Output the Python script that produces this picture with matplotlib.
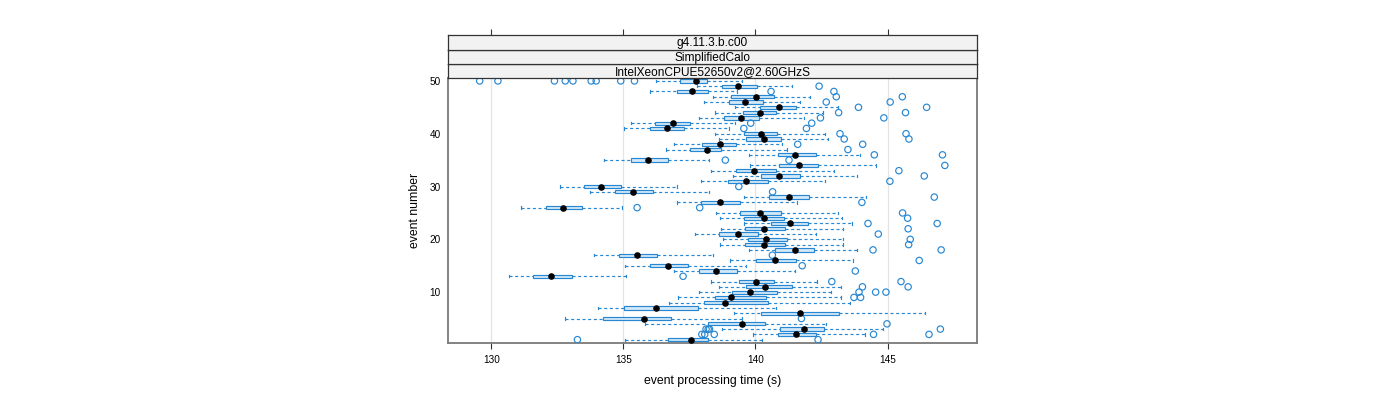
import numpy as np
import matplotlib.pyplot as plt
from matplotlib.patches import Rectangle

plt.rcParams['font.family'] = ['Liberation Sans', 'DejaVu Sans']

# event processing time per event (s): whiskers, quartiles, median, outliers
event = np.arange(1, 51)
whisk_lo = [135.08, 139.89, 138.75, 135.80, 132.80, 139.18, 134.03, 136.71, 137.06, 137.87,
            138.63, 138.30, 130.68, 136.90, 135.05, 139.05, 133.89, 139.76, 138.67, 138.77,
            137.71, 138.70, 139.57, 138.67, 138.49, 131.13, 137.02, 139.55, 133.75, 132.59,
            137.94, 139.16, 138.30, 139.80, 134.28, 139.76, 136.60, 136.93, 138.63, 138.48,
            135.03, 135.28, 137.85, 138.48, 139.21, 138.05, 138.40, 136.00, 137.78, 136.22]
q1 = [136.69, 140.86, 140.94, 138.22, 134.22, 140.22, 135.01, 138.07, 138.45, 139.12,
      139.65, 139.39, 131.59, 137.86, 136.00, 140.01, 134.82, 140.75, 139.61, 139.70,
      138.63, 139.61, 140.58, 139.57, 139.42, 132.06, 137.95, 140.52, 134.68, 133.50,
      138.97, 140.20, 139.28, 140.90, 135.30, 140.86, 137.51, 137.96, 139.64, 139.56,
      136.00, 136.19, 138.82, 139.51, 140.18, 139.01, 139.06, 137.02, 138.75, 137.13]
med = [137.56, 141.53, 141.83, 139.50, 135.79, 141.68, 136.22, 138.85, 139.08, 139.78,
       140.37, 140.02, 132.26, 138.52, 136.68, 140.73, 135.51, 141.49, 140.33, 140.41,
       139.34, 140.33, 141.32, 140.31, 140.16, 132.72, 138.65, 141.26, 135.38, 134.14,
       139.64, 140.90, 139.94, 141.63, 135.94, 141.50, 138.17, 138.65, 140.31, 140.20,
       136.64, 136.87, 139.44, 140.18, 140.90, 139.60, 140.03, 137.59, 139.35, 137.74]
q3 = [138.22, 142.31, 142.60, 140.36, 136.79, 143.17, 137.83, 140.49, 140.39, 140.81,
      141.40, 140.72, 133.07, 139.31, 137.46, 141.52, 136.26, 142.23, 141.12, 141.20,
      140.10, 141.12, 142.00, 141.08, 140.96, 133.42, 139.42, 142.03, 136.11, 134.90,
      140.48, 141.68, 140.79, 142.37, 136.70, 142.29, 138.70, 139.26, 140.95, 140.83,
      137.29, 137.53, 140.13, 140.78, 141.53, 140.30, 140.69, 138.22, 140.06, 138.18]
whisk_hi = [140.23, 144.13, 144.81, 142.66, 139.50, 146.40, 140.79, 143.58, 143.24, 142.86,
            143.22, 142.33, 135.10, 141.49, 139.63, 143.68, 138.38, 143.85, 143.30, 143.30,
            142.29, 143.31, 143.65, 143.26, 143.13, 134.96, 141.58, 144.19, 138.25, 137.02,
            142.62, 143.86, 142.96, 144.58, 138.26, 143.95, 141.20, 140.99, 142.74, 142.62,
            139.01, 139.21, 141.82, 142.57, 143.12, 141.68, 142.08, 139.29, 141.37, 139.50]
outliers = [
    [133.26, 142.37], [137.97, 138.08, 138.44, 144.47, 146.57], [138.13, 138.21, 138.26, 147.00],
    [144.98], [141.74], [], [], [], [143.73, 143.98], [143.92, 144.55, 144.94],
    [144.05, 145.78], [142.89, 145.51], [137.26], [143.78], [141.77],
    [146.20], [140.64], [144.45, 147.03], [145.80], [145.86],
    [144.65], [145.78], [144.26, 146.88], [145.76], [145.57],
    [135.52, 137.89], [144.03], [146.77], [140.65], [139.37],
    [145.09], [146.39], [145.43], [147.17], [138.86, 141.27],
    [144.50, 147.08], [143.50], [141.60, 144.06], [143.36, 145.81], [143.20, 145.70],
    [139.56, 141.93], [139.82, 142.13], [142.46, 144.86], [143.15, 145.68], [143.90, 146.48],
    [142.68, 145.10], [143.06, 145.56], [140.59, 142.97], [142.41],
    [129.56, 130.25, 132.39, 132.80, 133.09, 133.78, 133.97, 134.90, 135.42],
]
strip_labels = ['g4.11.3.b.c00', 'SimplifiedCalo', 'IntelXeonCPUE52650v2@2.60GHzS']
x_ticks = [130, 135, 140, 145]
y_ticks = [10, 20, 30, 40, 50]

blue = '#2787d2'
fig = plt.figure(figsize=(14, 4), dpi=100)
ax = fig.add_axes([0.3198, 0.142, 0.3783, 0.6623])

for xt in x_ticks:
    ax.axvline(xt, color='#e4e4e4', lw=0.9, zorder=0)

bh = 0.62
for i, y in enumerate(event):
    ax.plot([whisk_lo[i], q1[i]], [y, y], color=blue, lw=0.85, ls=(0, (2.6, 2.2)))
    ax.plot([q3[i], whisk_hi[i]], [y, y], color=blue, lw=0.85, ls=(0, (2.6, 2.2)))
    ax.plot([whisk_lo[i]] * 2, [y - 0.22, y + 0.22], color=blue, lw=0.85)
    ax.plot([whisk_hi[i]] * 2, [y - 0.22, y + 0.22], color=blue, lw=0.85)
    ax.add_patch(Rectangle((q1[i], y - bh / 2), q3[i] - q1[i], bh,
                           facecolor='#d3e8f8', edgecolor=blue, lw=0.85, zorder=3))
    if outliers[i]:
        ax.scatter(outliers[i], [y] * len(outliers[i]), s=21, facecolors='none',
                   edgecolors=blue, linewidths=0.85, zorder=4)
ax.scatter(med, event, s=14, color='black', zorder=5)

ax.set_xlim(128.35, 148.40)
ax.set_ylim(0.33, 50.5)
ax.set_xticks(x_ticks)
ax.set_yticks(y_ticks)
ax.tick_params(axis='x', direction='out', length=4.3, width=0.8, labelsize=7.2, pad=4.5, color='#333333')
ax.tick_params(axis='y', length=0, labelsize=7.2, pad=5)
for sp in ax.spines.values():
    sp.set_color('#7a7a7a')
    sp.set_linewidth(1.3)
ax.set_xlabel('event processing time (s)', fontsize=8.8, labelpad=7)
ax.set_ylabel('event number', fontsize=8.8, labelpad=6)

# strips stacked above the panel
sh = 0.0358
for k, lab in enumerate(reversed(strip_labels)):
    sax = fig.add_axes([0.3198, 0.80425 + k * sh, 0.3783, sh])
    sax.set_facecolor('#f2f2f2')
    sax.set_xlim(128.35, 148.40)
    sax.set_yticks([])
    sax.set_xticks([])
    for sp in sax.spines.values():
        sp.set_color('#333333')
        sp.set_linewidth(0.9)
    sax.text(0.5, 0.45, lab, transform=sax.transAxes, ha='center', va='center', fontsize=8.6)
    if k == len(strip_labels) - 1:
        sax.set_xticks(x_ticks)
        sax.tick_params(axis='x', top=True, bottom=False, labeltop=False, labelbottom=False,
                        direction='out', length=4.3, width=0.8, color='#333333')

fig.savefig('out.png', dpi=100)
